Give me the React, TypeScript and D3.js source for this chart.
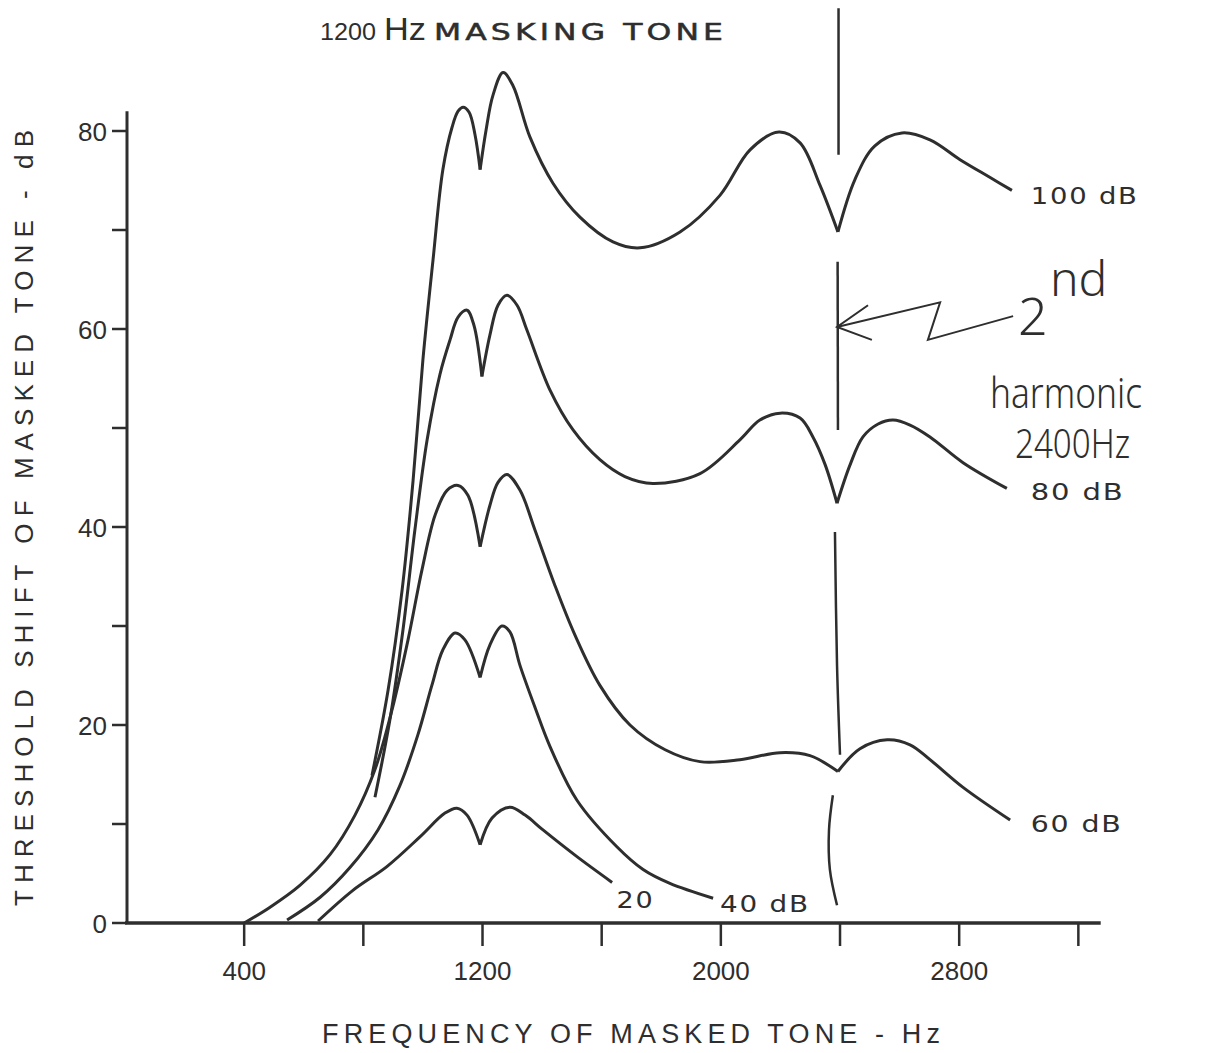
import React from "react";
import * as d3 from "d3";

// ---------- data (frequency Hz, threshold shift dB) ----------
const CURVE_100: [number, number][] = [
  [829, 14.9], [883, 23.5], [930, 33.6], [967, 44.7], [1000, 56.9], [1034, 67.0],
  [1067, 76.1], [1098, 80.4], [1118, 82.0], [1135, 82.4], [1155, 81.9], [1175, 79.6],
  [1192, 76.1], [1212, 80.1], [1235, 83.6], [1269, 85.9], [1302, 84.6], [1359, 79.4],
  [1437, 74.7], [1527, 71.3], [1638, 68.8], [1729, 68.2], [1863, 69.8], [1997, 73.5],
  [2098, 78.1], [2195, 79.9], [2266, 78.8], [2333, 74.5], [2393, 69.8], [2450, 75.1],
  [2517, 78.5], [2608, 79.8], [2702, 79.1], [2803, 77.1], [2904, 75.3], [2977, 74],
];
const CURVE_80: [number, number][] = [
  [839, 12.7], [889, 20.5], [933, 29.6], [973, 39.7], [1014, 48.8], [1057, 55.4],
  [1091, 58.9], [1118, 61.2], [1148, 61.9], [1171, 60.4], [1198, 55.2], [1225, 59.4],
  [1252, 62.4], [1282, 63.4], [1316, 62.4], [1349, 59.9], [1427, 53.8], [1504, 49.8],
  [1594, 46.8], [1678, 45.1], [1772, 44.4], [1930, 45.4], [2064, 48.8], [2131, 50.8],
  [2199, 51.5], [2266, 51], [2309, 49.1], [2350, 46.3], [2390, 42.4], [2434, 46.3],
  [2477, 49.1], [2528, 50.4], [2578, 50.8], [2635, 50.3], [2702, 49.1], [2813, 46.5],
  [2960, 43.9],
];
const CURVE_60: [number, number][] = [
  [400, 0], [487, 1.6], [587, 3.8], [688, 6.9], [772, 10.9], [839, 15.5], [896, 21.5],
  [950, 28.6], [997, 35.7], [1041, 41.2], [1081, 43.7], [1118, 44.2], [1151, 43.2],
  [1192, 38], [1225, 42.2], [1252, 44.5], [1282, 45.3], [1326, 43.7], [1376, 39.7],
  [1443, 34.1], [1510, 29.1], [1594, 24.0], [1695, 20.0], [1813, 17.5], [1930, 16.3],
  [2064, 16.5], [2199, 17.2], [2299, 16.9], [2393, 15.3], [2467, 17.6], [2558, 18.5],
  [2635, 18], [2702, 16.5], [2813, 13.7], [2971, 10.4],
];
const CURVE_40: [number, number][] = [
  [544, 0.3], [655, 2.6], [755, 5.6], [849, 9.4], [923, 13.9], [983, 19], [1030, 24],
  [1067, 27.6], [1108, 29.3], [1141, 28.6], [1192, 24.8], [1225, 28.1], [1265, 30],
  [1292, 29.4], [1326, 26.0], [1376, 21.8], [1427, 17.8], [1517, 12.4], [1651, 7.7],
  [1739, 5.4], [1829, 4], [1974, 2.5],
];
const CURVE_20: [number, number][] = [
  [648, 0.2], [765, 3.3], [879, 5.7], [990, 8.7], [1074, 11.1], [1114, 11.6],
  [1148, 10.9], [1192, 7.9], [1232, 10.6], [1292, 11.7], [1343, 10.9], [1403, 9.4],
  [1517, 6.7], [1635, 4.1],
];
const CURVES = [CURVE_100, CURVE_80, CURVE_60, CURVE_40, CURVE_20];
const DIP_HZ = [1192, 1198, 2390, 2393];

const CURVE_LABELS = ["100 dB", "80 dB", "60 dB", "40 dB", "20"];
const CURVE_LABEL_POS: [number, number][] = [
  [3040, 72.6], [3040, 42.7], [3040, 9.2], [1997, 1.1], [1650, 1.5],
];
const CURVE_LABEL_LEN = [108, 94, 92, 90, 38];

// 2nd harmonic marker line pieces (hz, dB)
const HARMONIC_SEGMENTS: [number, number][][] = [
  [[2395, 92.4], [2395, 77.6]],
  [[2392, 66.8], [2393, 49.8]],
  [[2383, 39.5], [2390, 26], [2400, 17]],
  [[2376, 12.9], [2363, 9.4], [2366, 5.4], [2390, 1.8]],
];
const ARROW_PATH: [number, number][] = [
  [2390, 60.2], [2736, 62.7], [2695, 58.9], [2981, 61.3],
];
const ARROW_HEAD: [number, number][] = [
  [2494, 62.4], [2390, 60.2], [2507, 58.9],
];

const X_TICKS = [400, 800, 1200, 1600, 2000, 2400, 2800, 3200];
const X_LABELS = [400, 1200, 2000, 2800];
const Y_TICKS = [0, 10, 20, 30, 40, 50, 60, 70, 80];
const Y_LABELS = [0, 20, 40, 60, 80];

const TITLE = "MASKING TONE";
const X_TITLE = "FREQUENCY OF MASKED TONE - Hz";
const Y_TITLE = "THRESHOLD SHIFT OF MASKED TONE - dB";

const INK = "#2e2e2e";
const FONT = "'Liberation Sans', Arial, sans-serif";
const WIDE = "'DejaVu Sans', 'Liberation Sans', sans-serif";
const HAND = "'Noto Sans', 'DejaVu Sans', sans-serif";

export default function App() {
  const W = 1210, H = 1053;
  const x = d3.scaleLinear().domain([0, 3275]).range([125, 1100.7]);
  const y = d3.scaleLinear().domain([0, 82]).range([923, 111.2]);

  const smooth = d3
    .line<[number, number]>()
    .x((d) => x(d[0]))
    .y((d) => y(d[1]))
    .curve(d3.curveCatmullRom.alpha(0.5));
  const straight = d3
    .line<[number, number]>()
    .x((d) => x(d[0]))
    .y((d) => y(d[1]));

  const splitAtDips = (pts: [number, number][]) => {
    const segs: [number, number][][] = [];
    let cur: [number, number][] = [];
    pts.forEach((p) => {
      cur.push(p);
      if (DIP_HZ.includes(p[0])) {
        segs.push(cur);
        cur = [p];
      }
    });
    if (cur.length > 1) segs.push(cur);
    return segs;
  };

  return (
    <svg
      width={W}
      height={H}
      style={{ position: "absolute", left: 0, top: 0, background: "#fff" }}
    >
      {/* title */}
      <text x={320} y={40} fill={INK} fontFamily={FONT} fontSize={24} textLength={56} lengthAdjust="spacingAndGlyphs">1200</text>
      <text x={384} y={40} fill={INK} fontFamily={FONT} fontSize={31} textLength={42} lengthAdjust="spacingAndGlyphs">Hz</text>
      <text x={434} y={40} fill={INK} stroke={INK} strokeWidth={0.5} fontFamily={WIDE} fontSize={23} letterSpacing={3} textLength={293} lengthAdjust="spacingAndGlyphs">
        {TITLE}
      </text>

      {/* y axis */}
      <line x1={x(0) + 2} x2={x(0) + 2} y1={y(82)} y2={y(0)} stroke={INK} strokeWidth={3} />
      {Y_TICKS.map((t) => (
        <line key={t} x1={x(0) - 13} x2={x(0) + 2} y1={y(t)} y2={y(t)} stroke={INK} strokeWidth={2.5} />
      ))}
      {Y_LABELS.map((t) => (
        <text key={t} x={x(0) - 18} y={y(t) + 10} textAnchor="end" fill={INK} fontFamily={FONT} fontSize={26}>
          {t}
        </text>
      ))}

      {/* x axis */}
      <line x1={x(0)} x2={x(3275)} y1={y(0)} y2={y(0)} stroke={INK} strokeWidth={3.5} />
      {X_TICKS.map((t) => (
        <line key={t} x1={x(t)} x2={x(t)} y1={y(0)} y2={y(0) + 23} stroke={INK} strokeWidth={2.5} />
      ))}
      {X_LABELS.map((t) => (
        <text key={t} x={x(t)} y={y(0) + 57} textAnchor="middle" fill={INK} fontFamily={FONT} fontSize={26}>
          {t}
        </text>
      ))}

      {/* axis titles */}
      <text x={322} y={1043} textLength={618} lengthAdjust="spacing" fill={INK} fontFamily={FONT} fontSize={27}>
        {X_TITLE}
      </text>
      <text
        transform={`translate(33, 906) rotate(-90)`}
        textLength={776}
        lengthAdjust="spacing"
        fill={INK}
        fontFamily={FONT}
        fontSize={26}
      >
        {Y_TITLE}
      </text>

      {/* curves */}
      {CURVES.map((c, i) =>
        splitAtDips(c).map((seg, j) => (
          <path key={`${i}-${j}`} d={smooth(seg) || ""} fill="none" stroke={INK} strokeWidth={3} strokeLinejoin="miter" />
        ))
      )}
      {CURVE_LABELS.map((l, i) => (
        <text
          key={l}
          x={x(CURVE_LABEL_POS[i][0])}
          y={y(CURVE_LABEL_POS[i][1])}
          fill={INK}
          fontFamily={WIDE}
          fontSize={23}
          letterSpacing={1.5}
          textLength={CURVE_LABEL_LEN[i]}
          lengthAdjust="spacingAndGlyphs"
        >
          {l}
        </text>
      ))}

      {/* 2nd harmonic marker */}
      {HARMONIC_SEGMENTS.map((s, i) => (
        <path key={i} d={smooth(s) || ""} fill="none" stroke={INK} strokeWidth={2.5} />
      ))}
      <path d={straight(ARROW_PATH) || ""} fill="none" stroke={INK} strokeWidth={2} />
      <path d={straight(ARROW_HEAD) || ""} fill="none" stroke={INK} strokeWidth={2} />
      <text x={1018} y={335} fill={INK} fontFamily={HAND} fontWeight={300} fontSize={52}>2</text>
      <text x={1050} y={296} fill={INK} fontFamily={HAND} fontWeight={300} fontSize={48}>nd</text>
      <text x={990} y={408} fill={INK} fontFamily={HAND} fontWeight={300} fontSize={42} textLength={152} lengthAdjust="spacingAndGlyphs">
        harmonic
      </text>
      <text x={1015} y={458} fill={INK} fontFamily={HAND} fontWeight={300} fontSize={40} textLength={115} lengthAdjust="spacingAndGlyphs">
        2400Hz
      </text>
    </svg>
  );
}
